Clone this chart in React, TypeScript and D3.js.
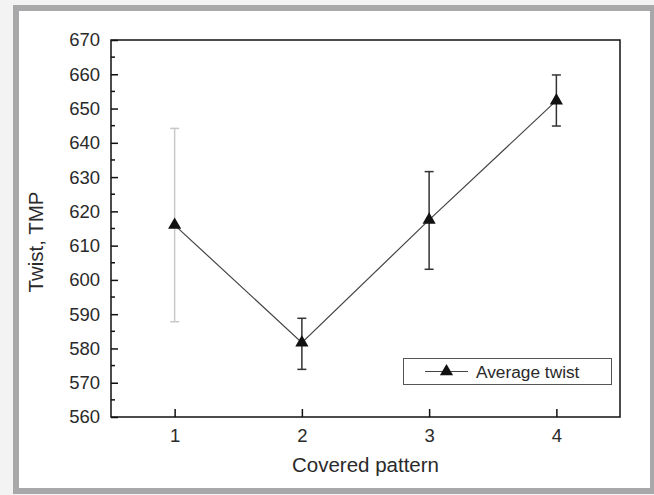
import React, { useEffect, useRef } from 'react';
import * as d3 from 'd3';

const patterns = [1, 2, 3, 4];
const avgTwist = [616, 581.7, 617.5, 652.3];
const errLow = [587.8, 573.9, 603.1, 644.9];
const errHigh = [644.2, 588.8, 631.6, 659.8];
const errColors = ['#c8c8c8', '#333333', '#333333', '#333333'];
const yTicks = [560, 570, 580, 590, 600, 610, 620, 630, 640, 650, 660, 670];
const xTicks = [1, 2, 3, 4];

const W = 654;
const H = 495;
const FONT = 'Liberation Sans, Arial, Helvetica, sans-serif';

function App() {
    const ref = useRef<SVGSVGElement>(null);

    useEffect(() => {
        const svg = d3.select(ref.current);
        svg.selectAll('*').remove();

        svg.append('rect').attr('width', W).attr('height', H).attr('fill', '#f3f3f3');
        svg.append('rect')
            .attr('x', 16).attr('y', 8)
            .attr('width', 637).attr('height', 483)
            .attr('fill', '#ffffff')
            .attr('stroke', '#a8a8aa')
            .attr('stroke-width', 6);

        const left = 111, right = 620, top = 40, bottom = 417;
        const x = d3.scaleLinear().domain([0.5, 4.5]).range([left, right]);
        const y = d3.scaleLinear().domain([560, 670]).range([bottom, top]);

        // frame
        svg.append('rect')
            .attr('x', left).attr('y', top)
            .attr('width', right - left).attr('height', bottom - top)
            .attr('fill', 'none').attr('stroke', '#111').attr('stroke-width', 1.5);

        // y ticks (inward)
        const yAxis = d3.axisLeft(y).tickValues(yTicks).tickSize(-7).tickPadding(11)
            .tickFormat(d3.format('d'));
        const gy = svg.append('g').attr('transform', `translate(${left},0)`).call(yAxis);
        gy.select('.domain').remove();
        gy.selectAll('line').attr('stroke', '#111').attr('stroke-width', 1.5);
        gy.selectAll('text').attr('font-family', FONT).attr('font-size', 18.5).attr('fill', '#2a2a2a');

        const minor = d3.range(565, 670, 10);
        svg.append('g').selectAll('line').data(minor).enter().append('line')
            .attr('x1', left).attr('x2', left + 4)
            .attr('y1', d => y(d)).attr('y2', d => y(d))
            .attr('stroke', '#111').attr('stroke-width', 1.5);

        // x ticks (inward)
        const xAxis = d3.axisBottom(x).tickValues(xTicks).tickSize(-8).tickPadding(12)
            .tickFormat(d3.format('d'));
        const gx = svg.append('g').attr('transform', `translate(0,${bottom})`).call(xAxis);
        gx.select('.domain').remove();
        gx.selectAll('line').attr('stroke', '#111').attr('stroke-width', 1.5);
        gx.selectAll('text').attr('font-family', FONT).attr('font-size', 18.5).attr('fill', '#2a2a2a');

        // axis titles
        svg.append('text')
            .attr('x', (left + right) / 2).attr('y', 472)
            .attr('text-anchor', 'middle')
            .attr('font-family', FONT).attr('font-size', 20.5).attr('fill', '#2a2a2a')
            .text('Covered pattern');
        svg.append('text')
            .attr('transform', `translate(43,${242}) rotate(-90)`)
            .attr('text-anchor', 'middle')
            .attr('font-family', FONT).attr('font-size', 20.5).attr('fill', '#2a2a2a')
            .text('Twist, TMP');

        // error bars
        const eb = svg.append('g');
        patterns.forEach((p, i) => {
            const g = eb.append('g').attr('stroke', errColors[i]).attr('stroke-width', 1.5);
            g.append('line').attr('x1', x(p)).attr('x2', x(p)).attr('y1', y(errLow[i])).attr('y2', y(errHigh[i]));
            g.append('line').attr('x1', x(p) - 4.5).attr('x2', x(p) + 4.5).attr('y1', y(errLow[i])).attr('y2', y(errLow[i]));
            g.append('line').attr('x1', x(p) - 4.5).attr('x2', x(p) + 4.5).attr('y1', y(errHigh[i])).attr('y2', y(errHigh[i]));
        });

        // line
        const line = d3.line<number>().x((d, i) => x(patterns[i])).y(d => y(d));
        svg.append('path').datum(avgTwist)
            .attr('d', line)
            .attr('fill', 'none').attr('stroke', '#444').attr('stroke-width', 1.2);

        // markers
        const tri = d3.symbol().type(d3.symbolTriangle).size(75);
        svg.append('g').selectAll('path').data(avgTwist).enter().append('path')
            .attr('d', tri)
            .attr('transform', (d, i) => `translate(${x(patterns[i])},${y(d)})`)
            .attr('fill', '#111');

        // legend
        const lg = svg.append('g');
        lg.append('rect').attr('x', 403.5).attr('y', 358.5).attr('width', 208).attr('height', 26)
            .attr('fill', '#fff').attr('stroke', '#555').attr('stroke-width', 1);
        lg.append('line').attr('x1', 425).attr('x2', 468).attr('y1', 371.5).attr('y2', 371.5)
            .attr('stroke', '#444').attr('stroke-width', 1.2);
        lg.append('path').attr('d', tri).attr('transform', 'translate(446.5,371.5)').attr('fill', '#111');
        lg.append('text').attr('x', 476).attr('y', 377.5)
            .attr('font-family', FONT).attr('font-size', 17.3).attr('fill', '#2a2a2a')
            .text('Average twist');
    }, []);

    return (
        <svg ref={ref} width={W} height={H}
            style={{ position: 'absolute', left: 0, top: 0, display: 'block' }} />
    );
}

export default App;
